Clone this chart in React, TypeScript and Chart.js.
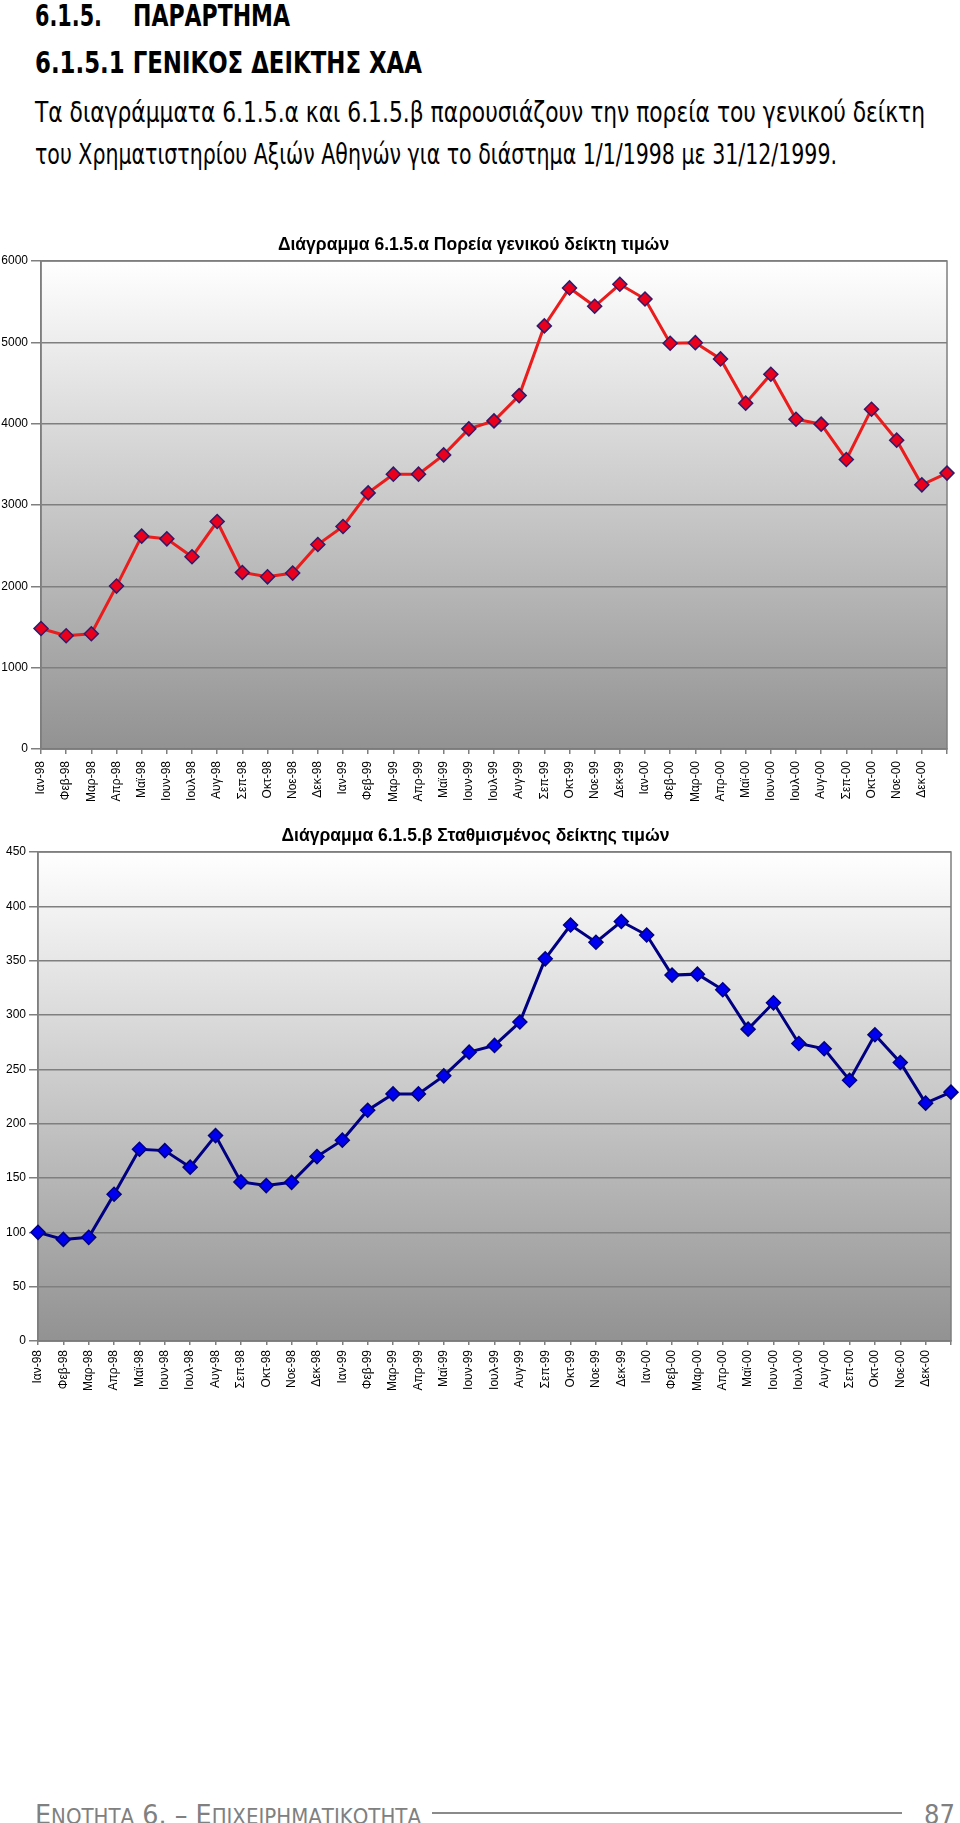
import React, { useEffect, useLayoutEffect, useRef } from 'react';
import { Chart, registerables } from 'chart.js';

Chart.register(...registerables);

// ---------- DATA ----------
const categories = [
  'Ιαν-98', 'Φεβ-98', 'Μαρ-98', 'Απρ-98', 'Μαϊ-98', 'Ιουν-98', 'Ιουλ-98', 'Αυγ-98', 'Σεπ-98', 'Οκτ-98', 'Νοε-98', 'Δεκ-98',
  'Ιαν-99', 'Φεβ-99', 'Μαρ-99', 'Απρ-99', 'Μαϊ-99', 'Ιουν-99', 'Ιουλ-99', 'Αυγ-99', 'Σεπ-99', 'Οκτ-99', 'Νοε-99', 'Δεκ-99',
  'Ιαν-00', 'Φεβ-00', 'Μαρ-00', 'Απρ-00', 'Μαϊ-00', 'Ιουν-00', 'Ιουλ-00', 'Αυγ-00', 'Σεπ-00', 'Οκτ-00', 'Νοε-00', 'Δεκ-00',
  '',
];

const generalIndex = [
  1482, 1392, 1417, 2003, 2617, 2584, 2363, 2797, 2170, 2117, 2163, 2514,
  2736, 3149, 3379, 3379, 3616, 3936, 4034, 4345, 5202, 5669, 5443, 5714,
  5533, 4989, 4996, 4796, 4252, 4608, 4055, 3994, 3559, 4178, 3797, 3248,
  3392,
];

const weightedIndex = [
  100, 93.5, 95.4, 135, 176.5, 175.2, 160, 189, 146.4, 143, 146, 169.7,
  184.8, 212.4, 227.4, 227.4, 244, 265.8, 272, 293.5, 351.7, 382.8, 367, 386,
  373.6, 336.7, 337.6, 323.2, 287, 311.2, 273.8, 268.9, 240, 281.8, 256.3, 218.9,
  229,
];

const generalTicks = [0, 1000, 2000, 3000, 4000, 5000, 6000];
const weightedTicks = [0, 50, 100, 150, 200, 250, 300, 350, 400, 450];

const title1 = 'Διάγραμμα 6.1.5.α Πορεία γενικού δείκτη τιμών';
const title2 = 'Διάγραμμα 6.1.5.β Σταθμισμένος δείκτης τιμών';

// ---------- STYLE ----------
const CHART_FONT = "'Liberation Sans', Arial, sans-serif";
const PAGE_FONT = "'DejaVu Sans', Verdana, sans-serif";
const GRID = '#7f7f7f';

const plotBackground = {
  id: 'plotBackground',
  beforeDraw(chart: any) {
    const { ctx, chartArea: a } = chart;
    const g = ctx.createLinearGradient(0, a.top, 0, a.bottom);
    g.addColorStop(0, '#ffffff');
    g.addColorStop(1, '#929292');
    ctx.save();
    ctx.fillStyle = g;
    ctx.fillRect(a.left, a.top, a.right - a.left, a.bottom - a.top);
    ctx.restore();
  },
  beforeDatasetsDraw(chart: any) {
    const { ctx, chartArea: a } = chart;
    ctx.save();
    ctx.strokeStyle = GRID;
    ctx.lineWidth = 1.5;
    ctx.strokeRect(a.left, a.top, a.right - a.left, a.bottom - a.top);
    ctx.restore();
  },
};

type ChartProps = {
  top: number;
  height: number;
  values: number[];
  ticks: number[];
  title: string;
  lineColor: string;
  pointColor: string;
  pointBorder: string;
  yWidth: number;
  padRight: number;
  yTickLen: number;
  xTickLen: number;
  xPad: number;
};

function LineChart(p: ChartProps) {
  const ref = useRef<HTMLCanvasElement>(null);
  useEffect(() => {
    if (!ref.current) return;
    const chart = new Chart(ref.current, {
      type: 'line',
      data: {
        labels: categories,
        datasets: [
          {
            data: p.values,
            borderColor: p.lineColor,
            borderWidth: 3,
            pointStyle: 'rectRot',
            pointRadius: 7,
            pointBackgroundColor: p.pointColor,
            pointBorderColor: p.pointBorder,
            pointBorderWidth: 1.5,
            tension: 0,
            clip: false,
          },
        ],
      },
      options: {
        animation: false,
        responsive: false,
        events: [],
        layout: { padding: { left: 0, right: p.padRight, top: 0, bottom: 0 } },
        plugins: {
          legend: { display: false },
          tooltip: { enabled: false },
          title: {
            display: true,
            text: p.title,
            color: '#000',
            font: { family: CHART_FONT, size: 17.5, weight: 'bold' },
            padding: { top: 9, bottom: 5 },
          },
        },
        scales: {
          x: {
            type: 'category',
            offset: false,
            grid: {
              display: true,
              drawOnChartArea: false,
              drawTicks: true,
              tickLength: p.xTickLen,
              color: GRID,
              lineWidth: 1.5,
            },
            border: { display: true, color: '#6f6f6f', width: 1.5 },
            ticks: {
              autoSkip: false,
              maxRotation: 90,
              minRotation: 90,
              padding: p.xPad,
              color: '#000',
              font: { family: CHART_FONT, size: 12 },
            },
            afterFit: (s: any) => {
              s.height = 80;
              s.paddingLeft = 0;
              s.paddingRight = 0;
            },
          },
          y: {
            min: p.ticks[0],
            max: p.ticks[p.ticks.length - 1],
            grid: {
              color: GRID,
              lineWidth: 1.5,
              tickLength: p.yTickLen,
            },
            border: { display: true, color: GRID, width: 1.5 },
            ticks: {
              stepSize: p.ticks[1] - p.ticks[0],
              padding: 3,
              color: '#000',
              font: { family: CHART_FONT, size: 12 },
              callback: (v: any) => String(v),
            },
            afterFit: (s: any) => {
              s.width = p.yWidth;
            },
          },
        },
      },
      plugins: [plotBackground],
    } as any);
    return () => chart.destroy();
  }, []);
  return (
    <canvas
      ref={ref}
      width={960}
      height={p.height}
      style={{ position: 'absolute', left: 0, top: p.top, width: 960, height: p.height }}
    />
  );
}

function FitText(props: {
  left: number;
  top: number;
  width: number;
  size: number;
  weight?: string | number;
  color?: string;
  children: React.ReactNode;
}) {
  const ref = useRef<HTMLSpanElement>(null);
  useLayoutEffect(() => {
    const el = ref.current;
    if (!el) return;
    el.style.transform = 'none';
    const w = el.getBoundingClientRect().width;
    if (w > 0) el.style.transform = `scaleX(${props.width / w})`;
  });
  return (
    <span
      ref={ref}
      style={{
        position: 'absolute',
        left: props.left,
        top: props.top,
        fontSize: props.size,
        lineHeight: 1,
        fontWeight: props.weight ?? 'normal',
        color: props.color ?? '#000',
        fontFamily: PAGE_FONT,
        whiteSpace: 'nowrap',
        display: 'inline-block',
        transformOrigin: '0 0',
      }}
    >
      {props.children}
    </span>
  );
}

export default function App() {
  const sc = { fontSize: 21 };
  return (
    <div style={{ position: 'relative', width: 960, height: 1823, background: '#fff', overflow: 'hidden' }}>
      <style>{`body{margin:0;background:#fff}`}</style>

      <FitText left={35} top={0.5} width={67} size={30} weight="bold">6.1.5.</FitText>
      <FitText left={133} top={0.5} width={157} size={30} weight="bold">ΠΑΡΑΡΤΗΜΑ</FitText>
      <FitText left={35} top={48} width={387} size={30} weight="bold">6.1.5.1 ΓΕΝΙΚΟΣ ΔΕΙΚΤΗΣ ΧΑΑ</FitText>
      <FitText left={35} top={99} width={890} size={28}>
        Τα διαγράμματα 6.1.5.α και 6.1.5.β παρουσιάζουν την πορεία του γενικού δείκτη
      </FitText>
      <FitText left={35} top={141} width={802} size={28}>
        του Χρηματιστηρίου Αξιών Αθηνών για το διάστημα 1/1/1998 με 31/12/1999.
      </FitText>

      <LineChart
        top={226}
        height={603}
        values={generalIndex}
        ticks={generalTicks}
        title={title1}
        lineColor="#ea1c1c"
        pointColor="#e8001c"
        pointBorder="#33196b"
        yWidth={41}
        padRight={13}
        yTickLen={10}
        xTickLen={5}
        xPad={7}
      />
      <LineChart
        top={817}
        height={604}
        values={weightedIndex}
        ticks={weightedTicks}
        title={title2}
        lineColor="#000080"
        pointColor="#0000f0"
        pointBorder="#000080"
        yWidth={38}
        padRight={9}
        yTickLen={9}
        xTickLen={4}
        xPad={5}
      />

      <FitText left={35} top={1801} width={386} size={27} color="#808080">
        Ε<span style={sc}>ΝΟΤΗΤΑ</span> 6. – Ε<span style={sc}>ΠΙΧΕΙΡΗΜΑΤΙΚΟΤΗΤΑ</span>
      </FitText>
      <div style={{ position: 'absolute', left: 432, top: 1812, width: 470, height: 1.5, background: '#8a8a8a' }} />
      <FitText left={924} top={1801} width={31} size={27} color="#808080">87</FitText>
    </div>
  );
}
